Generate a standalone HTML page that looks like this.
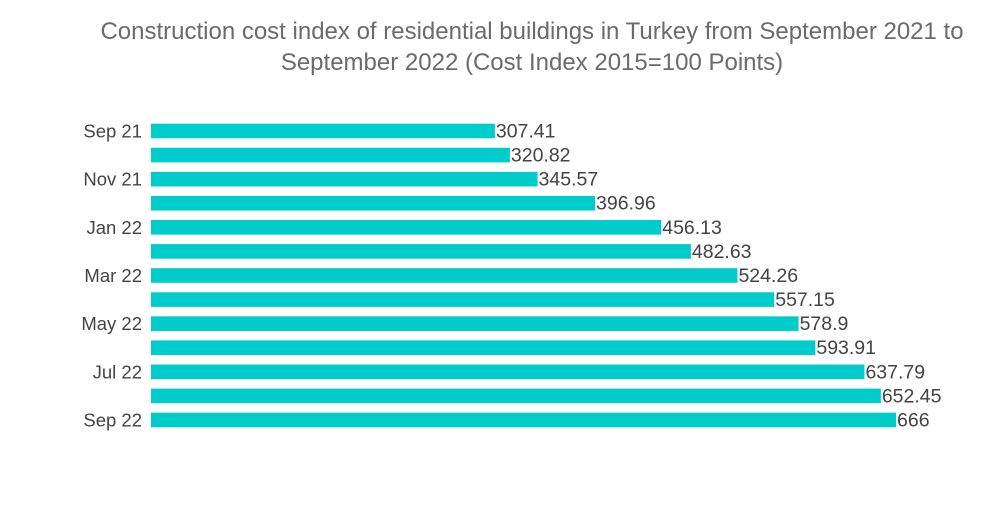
<!DOCTYPE html>
<html><head><meta charset="utf-8"><style>
body{margin:0;background:#fff;font-family:"Liberation Sans",sans-serif;}
#c{position:relative;width:1000px;height:504px;}
</style></head><body>
<div id="c">
<svg id="s" width="1000" height="504">
<text x="532" y="39" text-anchor="middle" font-size="24" fill="#6b6b6b">Construction cost index of residential buildings in Turkey from September 2021 to</text>
<text x="532" y="70" text-anchor="middle" font-size="24" fill="#6b6b6b">September 2022 (Cost Index 2015=100 Points)</text>
</svg>
</div>
<script>
const categories=["Sep 21","Oct 21","Nov 21","Dec 21","Jan 22","Feb 22","Mar 22","Apr 22","May 22","Jun 22","Jul 22","Aug 22","Sep 22"];
const values=[307.41,320.82,345.57,396.96,456.13,482.63,524.26,557.15,578.9,593.91,637.79,652.45,666];
const valueLabels=["307.41","320.82","345.57","396.96","456.13","482.63","524.26","557.15","578.9","593.91","637.79","652.45","666"];
const showCat=[true,false,true,false,true,false,true,false,true,false,true,false,true];
const NS="http://www.w3.org/2000/svg";
const s=document.getElementById('s');
const x0=151, xScale=v=>x0+v*(745/666);
const yScale=i=>131+i*24.08;
categories.forEach((c,i)=>{
  const cy=yScale(i);
  const r=document.createElementNS(NS,'rect');
  r.setAttribute('x',x0);r.setAttribute('y',cy-7.3);
  r.setAttribute('width',xScale(values[i])-x0);r.setAttribute('height',14.6);
  r.setAttribute('fill','#00cccc');
  
  
  s.appendChild(r);
  const t=document.createElementNS(NS,'text');
  t.setAttribute('x',xScale(values[i])+1);t.setAttribute('y',cy+6.5);
  t.setAttribute('font-size','19.5');t.setAttribute('fill','#444');
  t.textContent=valueLabels[i];
  
  
  s.appendChild(t);
  if(showCat[i]){
    const l=document.createElementNS(NS,'text');
    l.setAttribute('x',142);l.setAttribute('y',cy+6.5);
    l.setAttribute('text-anchor','end');
    l.setAttribute('font-size','18.5');l.setAttribute('fill','#444');
    l.textContent=c;
    
    
    s.appendChild(l);
  }
});
</script>
</body></html>
